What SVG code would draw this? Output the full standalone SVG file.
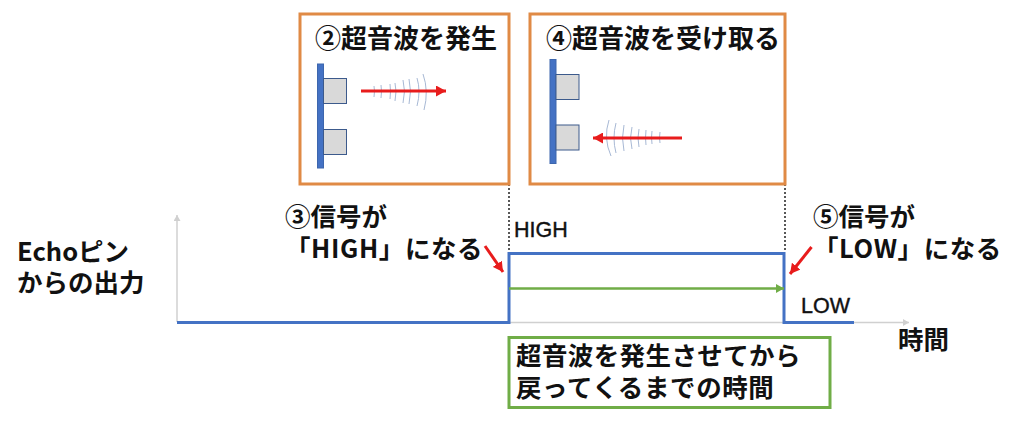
<svg xmlns="http://www.w3.org/2000/svg" width="1024" height="425" viewBox="0 0 1024 425">
<defs>
<marker id="red" markerUnits="userSpaceOnUse" markerWidth="11" markerHeight="11" refX="10" refY="5.500" orient="auto"><path d="M0 0L10 5.500L0 11z" fill="#e81c1c"/></marker>
<marker id="green" markerUnits="userSpaceOnUse" markerWidth="9" markerHeight="9" refX="8" refY="4.500" orient="auto"><path d="M0 0L8 4.500L0 9z" fill="#70ad47"/></marker>
<marker id="gray" markerUnits="userSpaceOnUse" markerWidth="7" markerHeight="7" refX="6" refY="3.500" orient="auto"><path d="M0 0L6 3.500L0 7z" fill="#d0d0d0"/></marker>
</defs>
<style>
text{font-family:"Noto Sans CJK JP","Liberation Sans",sans-serif;font-weight:700;fill:#111;font-size:25.500px}
.h{font-size:26px}
.s{font-family:"Liberation Sans",sans-serif;font-weight:400;stroke:#111;stroke-width:.4px;font-size:21.500px}
.or{fill:#fff;stroke:#e08a45;stroke-width:3}
.bar{fill:#4472c4;stroke:#3d66ad;stroke-width:1}
.sq{fill:#d9d9d9;stroke:#3c5a8c;stroke-width:1}
.ax{fill:none;stroke:#d0d0d0;stroke-width:1.500}
.sig{fill:none;stroke:#4472c4;stroke-width:3}
.dot{fill:none;stroke:#222;stroke-width:1.500;stroke-dasharray:2 2}
.rd{fill:none;stroke:#e81c1c;stroke-width:3}
.wave{fill:none;stroke:#9db0cf;stroke-width:.9}
</style>
<g id="connectors">
<path class="ax" d="M177 322V215" marker-end="url(#gray)"/>
<path class="ax" d="M177 322.500H909" marker-end="url(#gray)"/>
<path class="dot" d="M509 184V252"/>
<path class="dot" d="M785 184V252"/>
<path class="sig" d="M177 322.500H509V253.500H784V322.500H854"/>
<path d="M509 288.500H784" fill="none" stroke="#70ad47" stroke-width="2.500" marker-end="url(#green)"/>
<path class="rd" d="M485 246L503 272" marker-end="url(#red)"/>
<path class="rd" d="M811.500 247L790 274" marker-end="url(#red)"/>
</g>
<g id="box2">
<rect class="or" x="300" y="14" width="209" height="170"/>
<text class="h" x="315" y="48">②超音波を発生</text>
<rect class="bar" x="317.500" y="64" width="6" height="104"/>
<rect class="sq" x="323.500" y="78.500" width="23" height="25"/>
<rect class="sq" x="323.500" y="129.500" width="23" height="25"/>
<path class="wave" d="M374 86Q375 91 374 97M381 85Q382 91 381 98M390 84Q391 91 390 99M395 83Q397 91 395 101M403 80Q406 91 403 103M409 79Q412 91 409 104M417 78Q421 91 417 106M423 74Q429 91 424 110"/>
<path class="rd" d="M361 91H446" marker-end="url(#red)"/>
</g>
<g id="box4">
<rect class="or" x="530" y="14" width="255" height="170"/>
<text class="h" x="546" y="48">④超音波を受け取る</text>
<rect class="bar" x="550" y="59.500" width="6" height="104"/>
<rect class="sq" x="556" y="74.500" width="23" height="25"/>
<rect class="sq" x="556" y="125" width="23" height="25"/>
<path class="wave" d="M660 132Q659 138 660 143M652 131Q651 138 652 144M646 130Q645 138 646 145M639 129Q637 138 639 147M632 127Q629 138 632 149M624 125Q621 138 624 151M616 123Q612 138 616 153M609 120Q603 138 611 156"/>
<path class="rd" d="M682 138H593" marker-end="url(#red)"/>
</g>
<g id="label-echo">
<text><tspan x="17" y="261">Echoピン</tspan><tspan x="17" y="292">からの出力</tspan></text>
</g>
<g id="label-3">
<text><tspan x="285" y="226">③信号が</tspan><tspan x="285" y="258" letter-spacing=".6">「HIGH」になる</tspan></text>
</g>
<g id="label-5">
<text><tspan x="813" y="226">⑤信号が</tspan><tspan x="813" y="258" letter-spacing=".6">「LOW」になる</tspan></text>
</g>
<g id="label-high"><text class="s" x="514" y="237">HIGH</text></g>
<g id="label-low"><text class="s" x="801" y="313">LOW</text></g>
<g id="label-time"><text x="898" y="349">時間</text></g>
<g id="note">
<rect x="509" y="337.500" width="321" height="70" fill="#fff" stroke="#70ad47" stroke-width="3"/>
<text><tspan x="516" y="365" letter-spacing=".4">超音波を発生させてから</tspan><tspan x="516" y="397" letter-spacing=".6">戻ってくるまでの時間</tspan></text>
</g>
</svg>
